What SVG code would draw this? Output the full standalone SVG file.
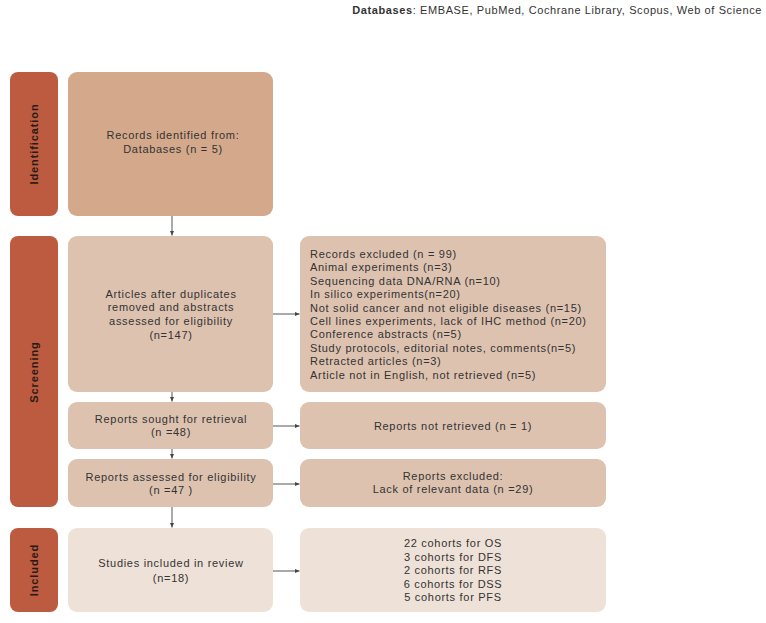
<svg xmlns="http://www.w3.org/2000/svg" width="766" height="623" viewBox="0 0 766 623">
<defs>
<marker id="ah" markerWidth="6" markerHeight="6" refX="5" refY="3" orient="auto" markerUnits="userSpaceOnUse">
<path d="M0,0.8 L5,3 L0,5.2 Z" fill="#444"/>
</marker>
<style>
text{font-family:"Liberation Sans",Arial,sans-serif;font-size:11px;fill:#333;letter-spacing:0.7px}
.c{text-anchor:middle}
.bar{fill:#BD5B41}
.lab{font-weight:bold;font-size:11px;fill:#2a1a15;text-anchor:middle;letter-spacing:0.9px}
.id{fill:#D4A98B}
.sc{fill:#DDC2B0}
.inc{fill:#EEE1D7}
.ln{stroke:#555;stroke-width:1;fill:none;marker-end:url(#ah)}
</style>
</defs>
<rect width="766" height="623" fill="#fff"/>
<text x="762" y="14" style="font-size:11px;text-anchor:end;letter-spacing:0.6px"><tspan font-weight="bold">Databases</tspan>: EMBASE, PubMed, Cochrane Library, Scopus, Web of Science</text>

<g id="bar-identification"><rect class="bar" x="10" y="72" width="48" height="144" rx="8"/><text class="lab" transform="translate(38,144) rotate(-90)">Identification</text></g>
<g id="bar-screening"><rect class="bar" x="10" y="236" width="48" height="271" rx="8"/><text class="lab" transform="translate(38,372) rotate(-90)">Screening</text></g>
<g id="bar-included"><rect class="bar" x="10" y="528" width="48" height="84" rx="8"/><text class="lab" transform="translate(38,570) rotate(-90)">Included</text></g>

<g id="n-identified"><rect class="id" x="68" y="72" width="205" height="144" rx="9"/>
<text class="c" x="173" y="139">Records identified from:</text>
<text class="c" x="173" y="153">Databases (n = 5)</text></g>

<g id="n-articles"><rect class="sc" x="68" y="236" width="205" height="156" rx="9"/>
<text class="c" x="171" y="298">Articles after duplicates</text>
<text class="c" x="171" y="311">removed and abstracts</text>
<text class="c" x="171" y="325">assessed for eligibility</text>
<text class="c" x="171" y="339">(n=147)</text></g>

<g id="n-excluded"><rect class="sc" x="300" y="236" width="306" height="156" rx="9"/>
<text x="310" y="258">Records excluded (n = 99)</text>
<text x="310" y="271.4">Animal experiments (n=3)</text>
<text x="310" y="284.8">Sequencing data DNA/RNA (n=10)</text>
<text x="310" y="298.2">In silico experiments(n=20)</text>
<text x="310" y="311.6">Not solid cancer and not eligible diseases (n=15)</text>
<text x="310" y="325">Cell lines experiments, lack of IHC method (n=20)</text>
<text x="310" y="338.4">Conference abstracts (n=5)</text>
<text x="310" y="351.8">Study protocols, editorial notes, comments(n=5)</text>
<text x="310" y="365.2">Retracted articles (n=3)</text>
<text x="310" y="378.6">Article not in English, not retrieved (n=5)</text></g>

<g id="n-sought"><rect class="sc" x="68" y="402" width="205" height="47" rx="9"/>
<text class="c" x="171" y="423">Reports sought for retrieval</text>
<text class="c" x="171" y="436">(n =48)</text></g>

<g id="n-notretrieved"><rect class="sc" x="300" y="402" width="306" height="47" rx="9"/>
<text class="c" x="453" y="430">Reports not retrieved (n = 1)</text></g>

<g id="n-assessed"><rect class="sc" x="68" y="459" width="205" height="48" rx="9"/>
<text class="c" x="171" y="481">Reports assessed for eligibility</text>
<text class="c" x="171" y="494">(n =47 )</text></g>

<g id="n-reportsexcluded"><rect class="sc" x="300" y="459" width="306" height="48" rx="9"/>
<text class="c" x="453" y="480">Reports excluded:</text>
<text class="c" x="453" y="493">Lack of relevant data (n =29)</text></g>

<g id="n-included"><rect class="inc" x="68" y="528" width="205" height="84" rx="9"/>
<text class="c" x="171" y="567">Studies included in review</text>
<text class="c" x="171" y="582">(n=18)</text></g>

<g id="n-cohorts"><rect class="inc" x="300" y="528" width="306" height="84" rx="9"/>
<text class="c" x="453" y="547">22 cohorts for OS</text>
<text class="c" x="453" y="560.5">3 cohorts for DFS</text>
<text class="c" x="453" y="574">2 cohorts for RFS</text>
<text class="c" x="453" y="587.5">6 cohorts for DSS</text>
<text class="c" x="453" y="601">5 cohorts for PFS</text></g>

<g id="connectors">
<line class="ln" x1="172" y1="216" x2="172" y2="235.5"/>
<line class="ln" x1="172" y1="392" x2="172" y2="401.5"/>
<line class="ln" x1="172" y1="449" x2="172" y2="458.5"/>
<line class="ln" x1="172" y1="507" x2="172" y2="527.5"/>
<line class="ln" x1="273" y1="314" x2="299.5" y2="314"/>
<line class="ln" x1="273" y1="426" x2="299.5" y2="426"/>
<line class="ln" x1="273" y1="484" x2="299.5" y2="484"/>
<line class="ln" x1="273" y1="571" x2="299.5" y2="571"/>
</g>
</svg>
